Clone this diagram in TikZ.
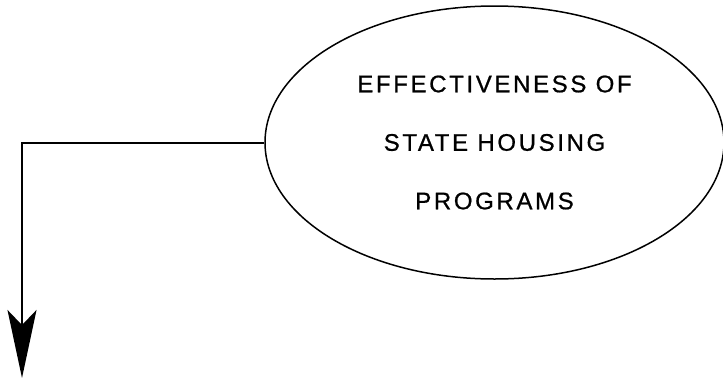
\documentclass[tikz,border=0pt]{standalone}
\usepackage{fontspec}
\setmainfont{Liberation Sans}[LetterSpace=11,FakeBold=0.8]
\usetikzlibrary{shapes.geometric,arrows.meta}
\begin{document}
\begin{tikzpicture}[x=1pt,y=-1pt,
  bubble/.style={ellipse,draw,line width=1.5pt,inner sep=0pt,
    minimum width=459pt,minimum height=273pt,align=center,
    font=\fontsize{24}{58.5}\selectfont},
  flow/.style={line width=2pt,-{Stealth[length=68pt,width=29pt,inset=15pt]}}]
\useasboundingbox (0,0) rectangle (723,381);
\node[bubble] (ell) at (494.5,142.5) {EFFECTIVENESS OF\\STATE HOUSING\\PROGRAMS};
\coordinate (tip) at (22,378);
\draw[flow] (ell.west) -- (ell.west -| tip) -- (tip);
\end{tikzpicture}
\end{document}
